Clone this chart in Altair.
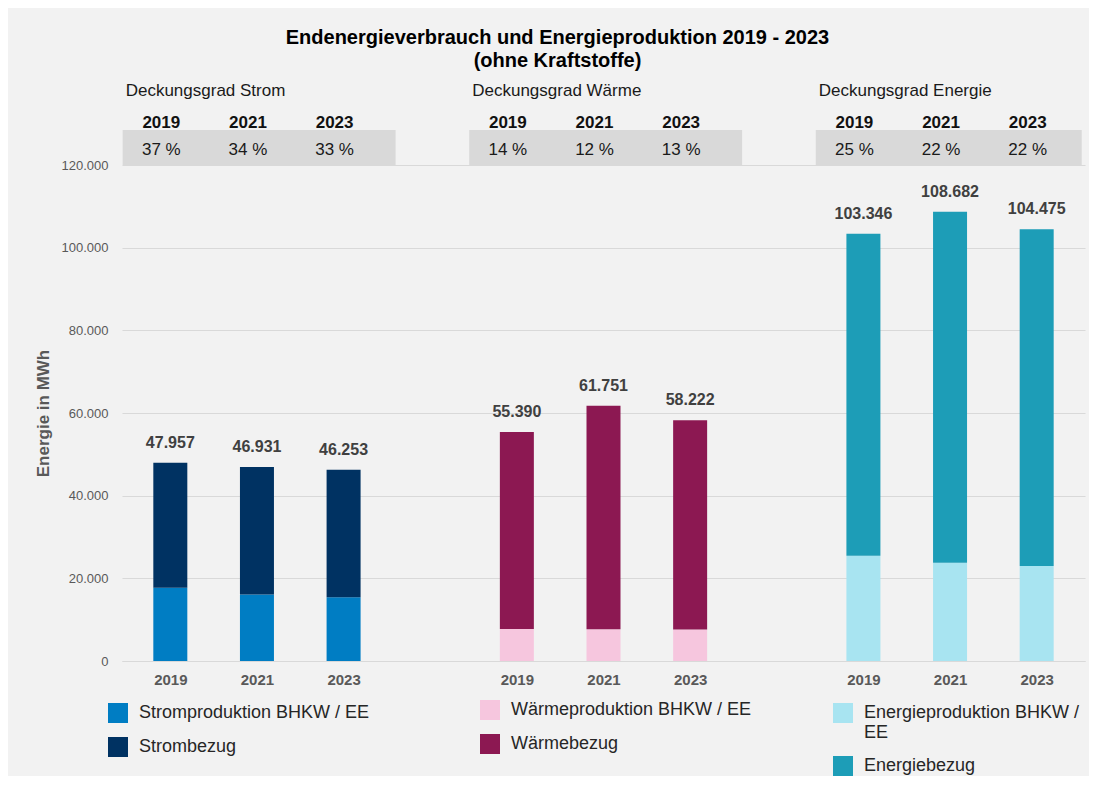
import altair as alt
import pandas as pd

FONT = "Liberation Sans"

years = ["2019", "2021", "2023"]
groups = ["Strom", "Wärme", "Energie"]

totals = {
    "Strom": [47957, 46931, 46253],
    "Wärme": [55390, 61751, 58222],
    "Energie": [103346, 108682, 104475],
}
production = {
    "Strom": [17700, 16100, 15400],
    "Wärme": [7750, 7700, 7600],
    "Energie": [25450, 23800, 23000],
}
coverage = {
    "Strom": ["37 %", "34 %", "33 %"],
    "Wärme": ["14 %", "12 %", "13 %"],
    "Energie": ["25 %", "22 %", "22 %"],
}
prod_labels = {
    "Strom": "Stromproduktion BHKW / EE",
    "Wärme": "Wärmeproduktion BHKW / EE",
    "Energie": "Energieproduktion BHKW / EE",
}
bezug_labels = {"Strom": "Strombezug", "Wärme": "Wärmebezug", "Energie": "Energiebezug"}
colors = {
    "Strom": ["#007dc3", "#003262"],
    "Wärme": ["#f6c6de", "#8c1852"],
    "Energie": ["#a8e4f1", "#1d9db7"],
}
table_titles = {
    "Strom": "Deckungsgrad Strom",
    "Wärme": "Deckungsgrad Wärme",
    "Energie": "Deckungsgrad Energie",
}
legend_pos = {"Strom": (-14, 538), "Wärme": (358, 535), "Energie": (711, 538)}

# ---- build tables ----
bar_rows, label_rows, table_rows, box_rows = [], [], [], []
slots = []
for gi, g in enumerate(groups):
    for yi, y in enumerate(years):
        slot = gi * 4 + yi
        slots.append(slot)
        p = production[g][yi]
        t = totals[g][yi]
        bar_rows.append(dict(group=g, slot=slot, series=prod_labels[g], value=p, k=0))
        bar_rows.append(dict(group=g, slot=slot, series=bezug_labels[g], value=t - p, k=1))
        label_rows.append(dict(group=g, slot=slot, total=t, label=f"{t:,}".replace(",", ".")))
        table_rows.append(dict(group=g, slot=slot, year=y, pct=coverage[g][yi]))
    box_rows.append(dict(group=g, x0=gi * 4 - 0.55, x1=min(gi * 4 + 2.6, 10.52), title=table_titles[g]))

bars_df = pd.DataFrame(bar_rows)
labels_df = pd.DataFrame(label_rows)
table_df = pd.DataFrame(table_rows)
box_df = pd.DataFrame(box_rows)

xscale = alt.Scale(domain=[-0.5, 10.5], nice=False, zero=False)
year_expr = "[" + ",".join(f"'{y}'" for y in years) + "][datum.value % 4]"
xaxis = alt.Axis(
    title=None, values=slots, labelExpr=year_expr, grid=False, ticks=False,
    domain=True, domainColor="#d9d9d9", labelFontSize=15, labelFontWeight="bold",
    labelColor="#595959", labelPadding=11, labelFont=FONT,
)
yscale = alt.Scale(domain=[0, 120000], nice=False)
yaxis = alt.Axis(
    title="Energie in MWh", values=list(range(0, 120001, 20000)),
    labelExpr="replace(format(datum.value, ','), ',', '.')",
    grid=True, gridColor="#d9d9d9", domain=False, ticks=False,
    labelFontSize=13, labelColor="#595959", labelPadding=14, labelFont=FONT,
    titleFontSize=17, titleFontWeight="bold", titleColor="#595959",
    titlePadding=9, titleFont=FONT,
)

boxes = alt.Chart(box_df).mark_rect(color="#d9d9d9").encode(
    x=alt.X("x0:Q", scale=xscale, axis=xaxis),
    x2="x1:Q",
    y=alt.value(-35),
    y2=alt.value(0),
)

bar_layers = []
for g in groups:
    lx, ly = legend_pos[g]
    leg = alt.Legend(
        title=None, orient="none", legendX=lx, legendY=ly, symbolType="square",
        symbolSize=400, symbolStrokeWidth=0, labelFontSize=18, labelColor="#262626",
        labelFont=FONT, labelOffset=11, rowPadding=14, padding=0, labelLimit=400,
        labelExpr="datum.label == 'Energieproduktion BHKW / EE' ? ['Energieproduktion BHKW /', 'EE'] : datum.label",
    )
    layer = alt.Chart(bars_df[bars_df["group"] == g]).mark_bar(size=34).encode(
        x=alt.X("slot:Q", scale=xscale, axis=xaxis),
        y=alt.Y("value:Q", scale=yscale, axis=yaxis, stack="zero"),
        color=alt.Color(
            "series:N",
            scale=alt.Scale(domain=[prod_labels[g], bezug_labels[g]], range=colors[g]),
            legend=leg,
            sort=[prod_labels[g], bezug_labels[g]],
        ),
        order=alt.Order("k:Q", sort="ascending"),
    )
    bar_layers.append(layer)

value_labels = alt.Chart(labels_df).mark_text(
    fontSize=16, fontWeight="bold", color="#404040", font=FONT, dy=-15, baseline="alphabetic"
).encode(
    x=alt.X("slot:Q", scale=xscale, axis=xaxis),
    y=alt.Y("total:Q", scale=yscale, axis=yaxis),
    text="label:N",
)

group_titles = alt.Chart(box_df).mark_text(
    fontSize=17, color="#1a1a1a", font=FONT, align="left", baseline="alphabetic", dx=3
).encode(
    x=alt.X("x0:Q", scale=xscale, axis=xaxis),
    y=alt.value(-69),
    text="title:N",
)

year_heads = alt.Chart(table_df).mark_text(
    fontSize=17, fontWeight="bold", color="#111111", font=FONT, baseline="alphabetic", dx=-9
).encode(
    x=alt.X("slot:Q", scale=xscale, axis=xaxis),
    y=alt.value(-37),
    text="year:N",
)

pct_text = alt.Chart(table_df).mark_text(
    fontSize=17, color="#1a1a1a", font=FONT, baseline="alphabetic", dx=-9
).encode(
    x=alt.X("slot:Q", scale=xscale, axis=xaxis),
    y=alt.value(-10),
    text="pct:N",
)

chart = alt.layer(
    boxes, *bar_layers, value_labels, group_titles, year_heads, pct_text
).resolve_scale(color="independent").properties(
    width=963,
    height=496,
    padding={"left": 114, "top": 157, "right": 4, "bottom": 115},
    autosize=alt.AutoSizeParams(type="none"),
    title=alt.TitleParams(
        text=["Endenergieverbrauch und Energieproduktion 2019 - 2023", "(ohne Kraftstoffe)"],
        fontSize=20, fontWeight="bold", color="#000000", font=FONT,
        anchor="middle", dx=-46, offset=11, lineHeight=23,
    ),
).configure(background="#f2f2f2").configure_view(stroke=None)

chart.save("out.html", embed_options={"renderer": "svg", "actions": False})
